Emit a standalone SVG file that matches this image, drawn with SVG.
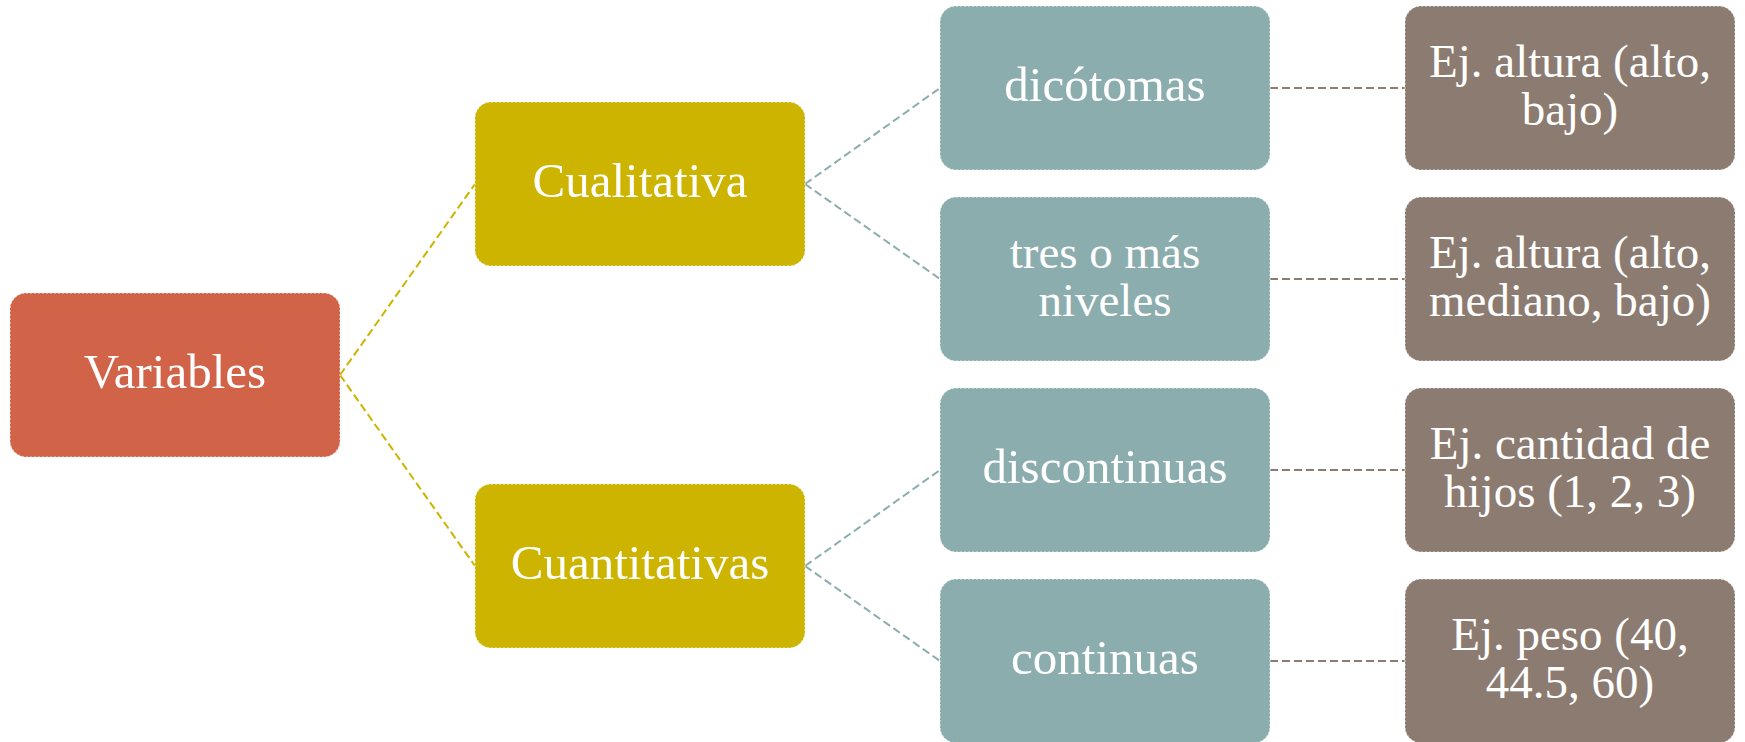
<svg xmlns="http://www.w3.org/2000/svg" width="1745" height="742" viewBox="0 0 1745 742">
<style>
.n{stroke:#ffffff;stroke-opacity:0.5;stroke-width:1.5;stroke-dasharray:2 2}
.red{fill:#D16349}.yel{fill:#CCB400}.teal{fill:#8CADAE}.brn{fill:#8C7B70}
text{font-family:"Liberation Serif","Times New Roman",serif;font-size:49px;fill:#ffffff;text-anchor:middle}
.t2{font-size:47px}
.c{fill:none;stroke-width:2;stroke-dasharray:8 4}
.cy{stroke:#CCB400}.ct{stroke:#8CADAE}.cb{stroke:#8C7B70}
</style>
<rect width="1745" height="742" fill="#ffffff"/>
<g id="connectors">
<line class="c cy" x1="340" y1="375" x2="475" y2="184"/>
<line class="c cy" x1="340" y1="375" x2="475" y2="566"/>
<line class="c ct" x1="805" y1="184" x2="940" y2="88"/>
<line class="c ct" x1="805" y1="184" x2="940" y2="279"/>
<line class="c ct" x1="805" y1="566" x2="940" y2="470"/>
<line class="c ct" x1="805" y1="566" x2="940" y2="661"/>
<line class="c cb" x1="1270" y1="88" x2="1405" y2="88"/>
<line class="c cb" x1="1270" y1="279" x2="1405" y2="279"/>
<line class="c cb" x1="1270" y1="470" x2="1405" y2="470"/>
<line class="c cb" x1="1270" y1="661" x2="1405" y2="661"/>
</g>
<g id="variables"><rect class="n red" x="10" y="293" width="330" height="164" rx="16"/><text x="175" y="388">Variables</text></g>
<g id="cualitativa"><rect class="n yel" x="475" y="102" width="330" height="164" rx="16"/><text x="640" y="197">Cualitativa</text></g>
<g id="cuantitativas"><rect class="n yel" x="475" y="484" width="330" height="164" rx="16"/><text x="640" y="579">Cuantitativas</text></g>
<g id="dicotomas"><rect class="n teal" x="940" y="6" width="330" height="164" rx="16"/><text x="1105" y="101">dicótomas</text></g>
<g id="tres"><rect class="n teal" x="940" y="197" width="330" height="164" rx="16"/><text class="t2" x="1105" y="268">tres o más</text><text class="t2" x="1105" y="316">niveles</text></g>
<g id="discontinuas"><rect class="n teal" x="940" y="388" width="330" height="164" rx="16"/><text x="1105" y="483">discontinuas</text></g>
<g id="continuas"><rect class="n teal" x="940" y="579" width="330" height="164" rx="16"/><text x="1105" y="674">continuas</text></g>
<g id="ej1"><rect class="n brn" x="1405" y="6" width="330" height="164" rx="16"/><text class="t2" x="1570" y="77">Ej. altura (alto,</text><text class="t2" x="1570" y="125">bajo)</text></g>
<g id="ej2"><rect class="n brn" x="1405" y="197" width="330" height="164" rx="16"/><text class="t2" x="1570" y="268">Ej. altura (alto,</text><text class="t2" x="1570" y="316">mediano, bajo)</text></g>
<g id="ej3"><rect class="n brn" x="1405" y="388" width="330" height="164" rx="16"/><text class="t2" x="1570" y="459">Ej. cantidad de</text><text class="t2" x="1570" y="507">hijos (1, 2, 3)</text></g>
<g id="ej4"><rect class="n brn" x="1405" y="579" width="330" height="164" rx="16"/><text class="t2" x="1570" y="650">Ej. peso (40,</text><text class="t2" x="1570" y="698">44.5, 60)</text></g>
</svg>
